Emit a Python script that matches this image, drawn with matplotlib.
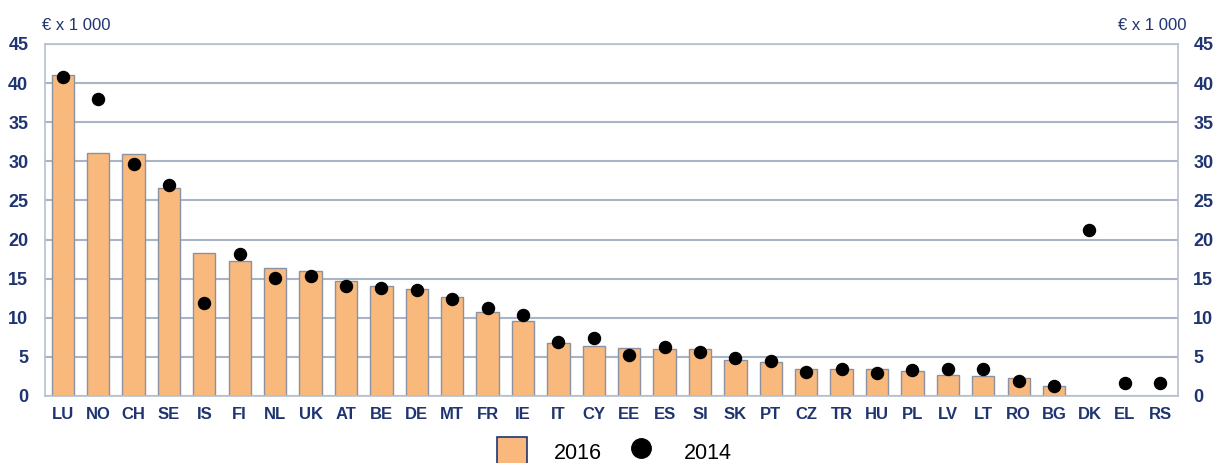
import matplotlib
matplotlib.use("Agg")
import matplotlib.pyplot as plt
import numpy as np
from matplotlib.patches import Patch
from matplotlib.lines import Line2D

countries = ["LU", "NO", "CH", "SE", "IS", "FI", "NL", "UK", "AT", "BE", "DE", "MT", "FR", "IE",
             "IT", "CY", "EE", "ES", "SI", "SK", "PT", "CZ", "TR", "HU", "PL", "LV", "LT", "RO",
             "BG", "DK", "EL", "RS"]
values_2016 = [41.0, 31.1, 31.0, 26.6, 18.3, 17.2, 16.3, 16.0, 14.7, 14.0, 13.7, 12.7, 10.8, 9.6,
               6.8, 6.4, 6.2, 6.0, 6.0, 4.6, 4.4, 3.5, 3.4, 3.4, 3.2, 2.7, 2.5, 2.3,
               1.3, np.nan, np.nan, np.nan]
values_2014 = [40.8, 38.0, 29.7, 27.0, 11.9, 18.2, 15.1, 15.3, 14.0, 13.8, 13.6, 12.4, 11.2, 10.3,
               6.9, 7.4, 5.3, 6.3, 5.6, 4.9, 4.5, 3.1, 3.5, 2.9, 3.3, 3.5, 3.5, 1.9,
               1.3, 21.2, 1.7, 1.7]
yticks = [0, 5, 10, 15, 20, 25, 30, 35, 40, 45]
unit_label = "€ x 1 000"
legend_labels = ["2016", "2014"]

navy = "#1F3470"
grid_c = "#AAB4C7"
bar_c = "#F9B97C"
edge_c = "#8C91A0"
narrow = ["Liberation Sans Narrow", "Liberation Sans", "DejaVu Sans"]

fig = plt.figure(figsize=(12.18, 4.63), dpi=100)
ax = fig.add_axes([45/1218, 1-396/463, (1178-45)/1218, (396-44)/463])

x = np.arange(len(countries))
ax.bar(x, values_2016, width=0.63, color=bar_c, edgecolor=edge_c, linewidth=1.0, zorder=2)
ax.scatter(x, values_2014, s=75, color="black", zorder=3)

ax.set_xlim(-0.5, len(countries) - 0.5)
ax.set_ylim(0, 45)
ax.set_yticks(yticks)
ax.yaxis.grid(True, color=grid_c, linewidth=1.5, zorder=0)
ax.set_axisbelow(True)
for s in ax.spines.values():
    s.set_color("#B8C0D0")
    s.set_linewidth(1.2)

ax.set_xticks(x)
ax.set_xticklabels(countries, family=narrow, fontsize=12, fontweight="bold", color=navy)
ax.tick_params(axis="x", length=0, pad=8)
ax.tick_params(axis="y", length=0, pad=12, labelsize=13, labelcolor=navy)
for lab in ax.get_yticklabels():
    lab.set_family(narrow)
    lab.set_fontweight("bold")

ax2 = ax.twinx()
ax2.set_ylim(ax.get_ylim())
ax2.set_yticks(yticks)
ax2.tick_params(axis="y", length=0, pad=11, labelsize=13, labelcolor=navy)
for lab in ax2.get_yticklabels():
    lab.set_family(narrow)
    lab.set_fontweight("bold")
for s in ax2.spines.values():
    s.set_visible(False)

fig.text(42/1218, 1-26/463, unit_label, family=narrow, fontsize=12, color=navy, ha="left", va="center")
fig.text(1186/1218, 1-26/463, unit_label, family=narrow, fontsize=12, color=navy, ha="right", va="center")

handles = [Patch(facecolor=bar_c, edgecolor=navy, linewidth=1.2),
           Line2D([], [], marker="o", linestyle="none", color="black", markersize=14)]
fig.legend(handles, legend_labels, loc="center", bbox_to_anchor=(614/1218, 1-452/463), ncol=2,
           frameon=False, prop={"family": ["Liberation Sans", "DejaVu Sans"], "size": 15.5},
           handlelength=1.4, handleheight=1.7, columnspacing=1.15, handletextpad=1.25)

fig.savefig("out.png", dpi=100)
